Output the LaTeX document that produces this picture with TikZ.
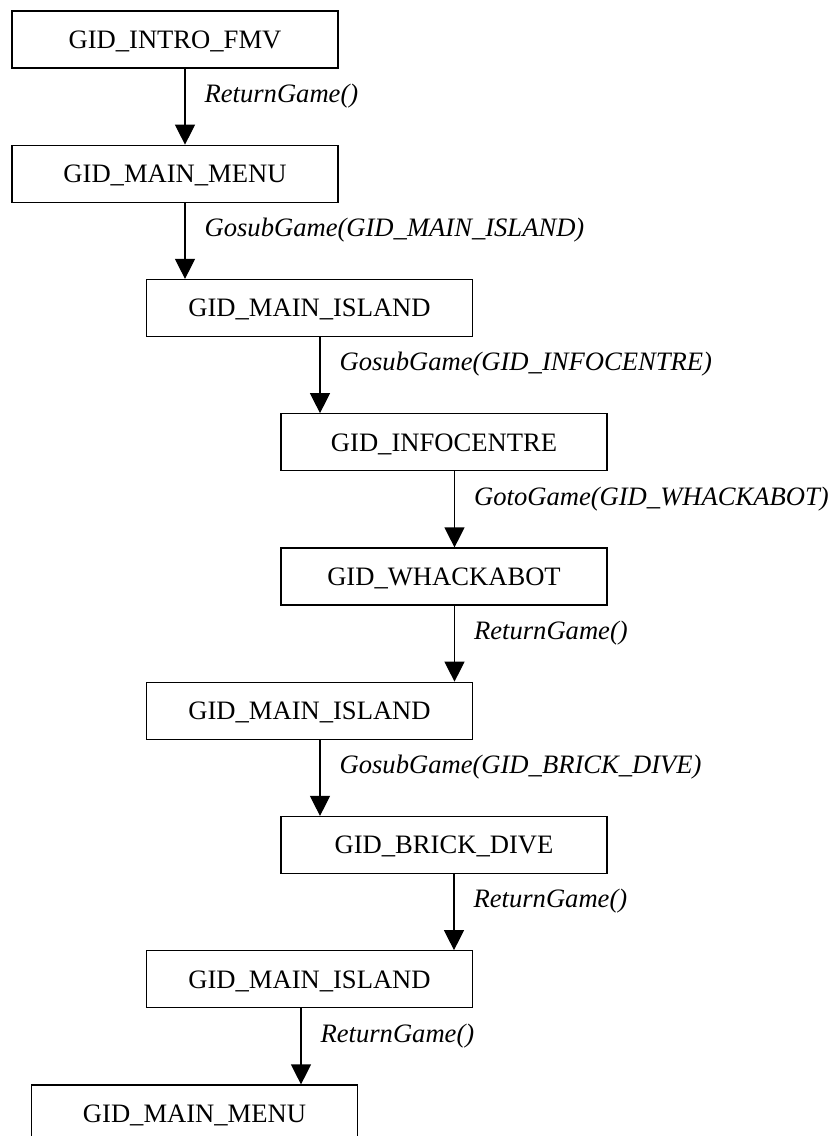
\documentclass[tikz,border=0pt]{standalone}
\usepackage{fontspec}
\setmainfont{Liberation Serif}
\usepackage{tikz}
\usetikzlibrary{positioning,arrows.meta}

\begin{document}
\begin{tikzpicture}[
                node distance=76.05pt,        % 状态之间的间距
                every node/.style={
                    font=\fontsize{26.6}{32}\selectfont
                },
                state/.style={
                    rectangle,
                    draw,
                    line width=1.2pt,
                    minimum width=326pt,
                    minimum height=57pt,
                    inner sep=0pt,
                    text height=17.6pt,
                    text depth=0pt
                },
                call/.style={
                    font=\fontsize{26.6}{32}\selectfont\itshape,
                    anchor=west,
                    xshift=19pt,
                    inner sep=0pt,
                    pos=0.36
                },
                >={Triangle[width=20pt,length=20pt]},
                arrow/.style={->, line width=1.2pt}
            ]
                \useasboundingbox (0,0) rectangle (833pt,-1136pt);

                % 状态
                \node[state] (intro) at (175pt,-39.5pt) {GID\_INTRO\_FMV};
                \node[state] (menu) [below=of intro] {GID\_MAIN\_MENU};
                \node[state] (island) [below=of menu, xshift=134.5pt] {GID\_MAIN\_ISLAND};
                \node[state] (info) [below=of island, xshift=134.5pt] {GID\_INFOCENTRE};
                \node[state] (whack) [below=of info] {GID\_WHACKABOT};
                \node[state] (island2) [below=of whack, xshift=-134.5pt] {GID\_MAIN\_ISLAND};
                \node[state] (brick) [below=of island2, xshift=134.5pt] {GID\_BRICK\_DIVE};
                \node[state] (island3) [below=of brick, xshift=-134.5pt] {GID\_MAIN\_ISLAND};
                \node[state] (menu2) [below=of island3, xshift=-115pt] {GID\_MAIN\_MENU};

                % 跳转
                \draw[arrow] ([xshift=10pt]intro.south) -- ([xshift=10pt]menu.north)
                    node[call] {ReturnGame()};
                \draw[arrow] ([xshift=10pt]menu.south) -- ([xshift=-124.5pt]island.north)
                    node[call] {GosubGame(GID\_MAIN\_ISLAND)};
                \draw[arrow] ([xshift=10.5pt]island.south) -- ([xshift=-124pt]info.north)
                    node[call] {GosubGame(GID\_INFOCENTRE)};
                \draw[arrow] ([xshift=10.5pt]info.south) -- ([xshift=10.5pt]whack.north)
                    node[call] {GotoGame(GID\_WHACKABOT)};
                \draw[arrow] ([xshift=10.5pt]whack.south) -- ([xshift=145pt]island2.north)
                    node[call] {ReturnGame()};
                \draw[arrow] ([xshift=10.5pt]island2.south) -- ([xshift=-124pt]brick.north)
                    node[call] {GosubGame(GID\_BRICK\_DIVE)};
                \draw[arrow] ([xshift=10pt]brick.south) -- ([xshift=144.5pt]island3.north)
                    node[call] {ReturnGame()};
                \draw[arrow] ([xshift=-8.5pt]island3.south) -- ([xshift=106.5pt]menu2.north)
                    node[call] {ReturnGame()};
            \end{tikzpicture}
\end{document}
